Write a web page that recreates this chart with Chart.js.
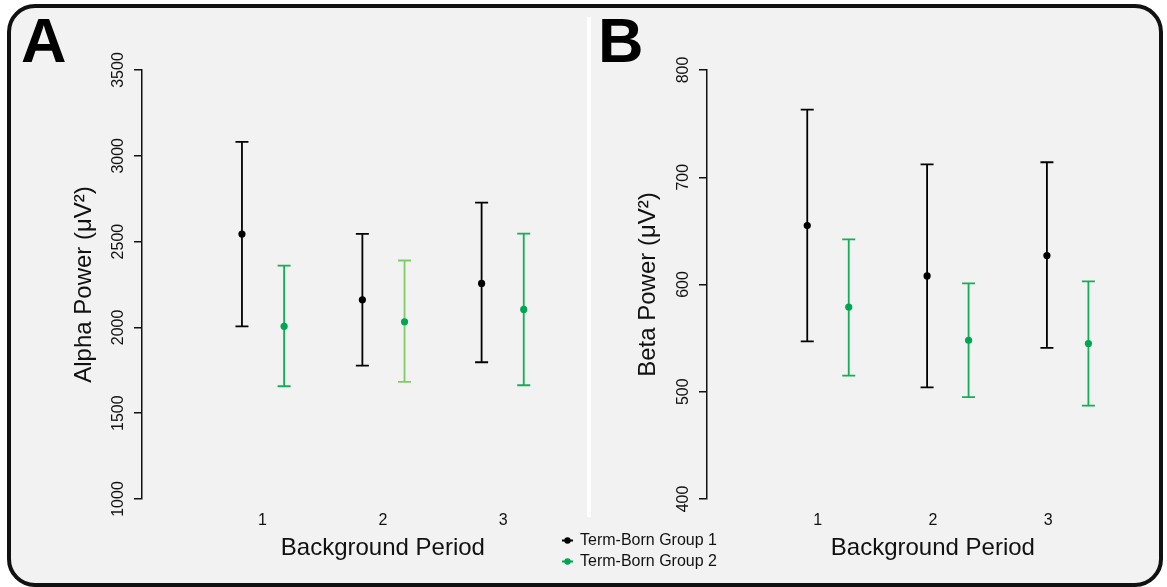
<!DOCTYPE html>
<html>
<head>
<meta charset="utf-8">
<script src="https://cdn.jsdelivr.net/npm/chart.js@4.4.1/dist/chart.umd.min.js"></script>
<style>
    body { margin: 0; width: 1167px; height: 587px; background: #fff; position: relative; overflow: hidden; }
    .frame { position: absolute; left: 7px; top: 4px; width: 1156px; height: 583px; box-sizing: border-box;
             border: 4px solid #111; border-radius: 28px; background: #f2f2f2; }
    .divider { position: absolute; left: 587px; top: 17px; width: 4px; height: 500px; background: #fff; }
    .tag { position: absolute; top: 9px; font: bold 63px/63px "Liberation Sans", Arial, sans-serif; color: #000; }
    canvas { position: absolute; top: 0; }
    #chartA { left: 0; }
    #chartB { left: 550px; }
</style>
</head>
<body>
<div class="frame"></div>
<div class="divider"></div>
<canvas id="chartA" width="632" height="587"></canvas>
<canvas id="chartB" width="617" height="587"></canvas>
<div class="tag" style="left:21px">A</div>
<div class="tag" style="left:598px">B</div>
<script>
const periods = [1, 2, 3];
const groupNames = ['Term-Born Group 1', 'Term-Born Group 2'];
const alphaTicks = [1000, 1500, 2000, 2500, 3000, 3500];
const betaTicks = [400, 500, 600, 700, 800];

// panel A - alpha power (mean, lower and upper end of the bars)
const alphaX1 = [0.83, 1.83, 2.82];
const alphaX2 = [1.18, 2.18, 3.17];
const alphaMean1 = [2544, 2161, 2256];
const alphaLow1 = [2006, 1777, 1797];
const alphaHigh1 = [3081, 2545, 2727];
const alphaMean2 = [2006, 2033, 2105];
const alphaLow2 = [1657, 1682, 1663];
const alphaHigh2 = [2360, 2390, 2547];

// panel B - beta power
const betaX1 = [0.91, 1.95, 2.99];
const betaX2 = [1.27, 2.31, 3.35];
const betaMean1 = [655, 608, 627];
const betaLow1 = [547, 504, 541];
const betaHigh1 = [763, 712, 714];
const betaMean2 = [579, 548, 545];
const betaLow2 = [515, 495, 487];
const betaHigh2 = [642, 601, 603];

const BLACK = '#000';
const GREEN = '#00a651';
const BAR_GREEN = '#14ae57';
const LIGHT_GREEN = '#80cc64';
const AXIS = '#111';

Chart.defaults.font.family = '"Liberation Sans", Arial, Helvetica, sans-serif';
Chart.defaults.color = '#111';

const points = (xs, ys) => xs.map((x, i) => ({ x, y: ys[i] }));
const bars = (xs, lo, hi) => xs.flatMap((x, i) => [{ x, y: lo[i] }, { x, y: hi[i] }, { x, y: null }]);

function makeDatasets(x1, m1, l1, h1, x2, m2, l2, h2, greens) {
    const greenAt = (i) => greens[Math.floor(i / 3)];
    return [
        { label: groupNames[0], data: points(x1, m1), pointRadius: 3.6, pointBorderWidth: 0,
          pointBackgroundColor: BLACK, isMean: true, markColor: BLACK },
        { label: groupNames[1], data: points(x2, m2), pointRadius: 3.6, pointBorderWidth: 0,
          pointBackgroundColor: GREEN, isMean: true, markColor: GREEN },
        { data: bars(x1, l1, h1), showLine: true, spanGaps: false, borderColor: BLACK, borderWidth: 1.8,
          pointStyle: 'line', pointRadius: 6.5, pointBorderColor: BLACK, pointBorderWidth: 1.8 },
        { data: bars(x2, l2, h2), showLine: true, spanGaps: false, borderColor: BAR_GREEN, borderWidth: 1.8,
          segment: { borderColor: (c) => greenAt(c.p0DataIndex) },
          pointStyle: 'line', pointRadius: 6.5, pointBorderWidth: 1.8,
          pointBorderColor: (c) => greenAt(c.dataIndex) },
    ];
}

function xScale(min, max) {
    return {
        type: 'linear', min, max,
        afterBuildTicks: (s) => { s.ticks = periods.map((v) => ({ value: v })); },
        afterFit: (s) => { s.height = 88; },
        ticks: { padding: 12, maxRotation: 0, font: { size: 16 }, callback: (v) => String(v) },
        grid: { display: false, drawTicks: false },
        border: { display: false },
        title: { display: true, text: 'Background Period', font: { size: 24 }, padding: { top: 0, bottom: 24 } },
    };
}

function yScale(min, max, ticks, width, tickPad, text, titlePad) {
    return {
        type: 'linear', min, max,
        afterBuildTicks: (s) => { s.ticks = ticks.map((v) => ({ value: v })); },
        afterFit: (s) => { s.width = width; },
        ticks: { minRotation: 90, maxRotation: 90, crossAlign: 'center', padding: tickPad,
                 font: { size: 16 }, callback: (v) => String(v) },
        grid: { drawOnChartArea: false, drawTicks: true, tickLength: 8, color: AXIS, lineWidth: 1.5 },
        border: { display: true, color: AXIS, width: 1.5 },
        title: { display: true, text, font: { size: 24 }, padding: { top: titlePad, bottom: 0 } },
    };
}

const groupLegend = {
    id: 'groupLegend',
    afterDraw(chart) {
        const ctx = chart.ctx;
        const items = chart.data.datasets.filter((d) => d.isMean);
        ctx.save();
        ctx.font = '16px "Liberation Sans", Arial, sans-serif';
        ctx.textBaseline = 'middle';
        items.forEach((d, i) => {
            const y = 540.5 + i * 21;
            ctx.strokeStyle = d.markColor;
            ctx.lineWidth = 2;
            ctx.beginPath();
            ctx.moveTo(12, y);
            ctx.lineTo(23, y);
            ctx.stroke();
            ctx.fillStyle = d.markColor;
            ctx.beginPath();
            ctx.arc(17.5, y, 3.2, 0, Math.PI * 2);
            ctx.fill();
            ctx.fillStyle = '#111';
            ctx.fillText(d.label, 30, y);
        });
        ctx.restore();
    },
};

const common = {
    responsive: false,
    animation: false,
    events: [],
    plugins: { legend: { display: false }, tooltip: { enabled: false } },
};

new Chart(document.getElementById('chartA'), {
    type: 'scatter',
    data: {
        datasets: makeDatasets(alphaX1, alphaMean1, alphaLow1, alphaHigh1,
                               alphaX2, alphaMean2, alphaLow2, alphaHigh2,
                               [BAR_GREEN, LIGHT_GREEN, BAR_GREEN]),
    },
    options: {
        ...common,
        layout: { padding: { top: 70, left: 0, right: 0, bottom: 0 } },
        scales: {
            x: xScale(0, 4),
            y: yScale(1000, 3500, alphaTicks, 142, -2, 'Alpha Power (\u03bcV\u00b2)', 70),
        },
    },
});

new Chart(document.getElementById('chartB'), {
    type: 'scatter',
    data: {
        datasets: makeDatasets(betaX1, betaMean1, betaLow1, betaHigh1,
                               betaX2, betaMean2, betaLow2, betaHigh2,
                               [BAR_GREEN, BAR_GREEN, BAR_GREEN]),
    },
    options: {
        ...common,
        layout: { padding: { top: 70, left: 0, right: 2, bottom: 0 } },
        scales: {
            x: xScale(0.04, 3.96),
            y: yScale(400, 800, betaTicks, 157, 2, 'Beta Power (\u03bcV\u00b2)', 84),
        },
    },
    plugins: [groupLegend],
});
</script>
</body>
</html>
